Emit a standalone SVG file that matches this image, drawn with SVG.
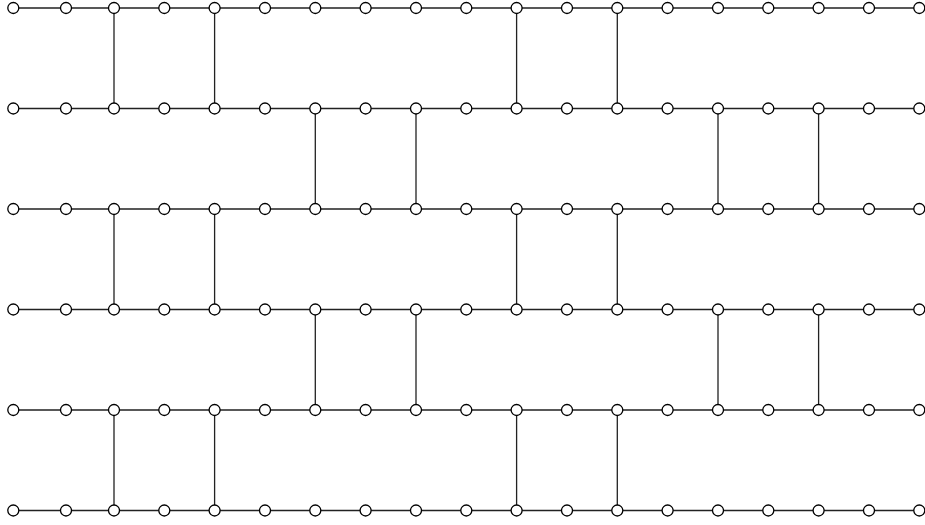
<svg xmlns="http://www.w3.org/2000/svg" width="925" height="525" viewBox="0 0 925 525">
<style>
.e{stroke:#222;stroke-width:1.3;fill:none}
.n{fill:#fff;stroke:#000;stroke-width:1.3}
</style>
<rect width="925" height="525" fill="#fff"/>
<g id="connectors">
<path class="e" d="M13.3 8H66M66 8H114M114 8H164.3M164.3 8H214.6M214.6 8H265M265 8H315.3M315.3 8H365.6M365.6 8H416M416 8H466.3M466.3 8H516.6M516.6 8H567M567 8H617.3M617.3 8H667.6M667.6 8H718M718 8H768.3M768.3 8H818.6M818.6 8H869M869 8H919.3"/>
<path class="e" d="M13.3 108.5H66M66 108.5H114M114 108.5H164.3M164.3 108.5H214.6M214.6 108.5H265M265 108.5H315.3M315.3 108.5H365.6M365.6 108.5H416M416 108.5H466.3M466.3 108.5H516.6M516.6 108.5H567M567 108.5H617.3M617.3 108.5H667.6M667.6 108.5H718M718 108.5H768.3M768.3 108.5H818.6M818.6 108.5H869M869 108.5H919.3"/>
<path class="e" d="M13.3 209H66M66 209H114M114 209H164.3M164.3 209H214.6M214.6 209H265M265 209H315.3M315.3 209H365.6M365.6 209H416M416 209H466.3M466.3 209H516.6M516.6 209H567M567 209H617.3M617.3 209H667.6M667.6 209H718M718 209H768.3M768.3 209H818.6M818.6 209H869M869 209H919.3"/>
<path class="e" d="M13.3 309.5H66M66 309.5H114M114 309.5H164.3M164.3 309.5H214.6M214.6 309.5H265M265 309.5H315.3M315.3 309.5H365.6M365.6 309.5H416M416 309.5H466.3M466.3 309.5H516.6M516.6 309.5H567M567 309.5H617.3M617.3 309.5H667.6M667.6 309.5H718M718 309.5H768.3M768.3 309.5H818.6M818.6 309.5H869M869 309.5H919.3"/>
<path class="e" d="M13.3 410H66M66 410H114M114 410H164.3M164.3 410H214.6M214.6 410H265M265 410H315.3M315.3 410H365.6M365.6 410H416M416 410H466.3M466.3 410H516.6M516.6 410H567M567 410H617.3M617.3 410H667.6M667.6 410H718M718 410H768.3M768.3 410H818.6M818.6 410H869M869 410H919.3"/>
<path class="e" d="M13.3 510.5H66M66 510.5H114M114 510.5H164.3M164.3 510.5H214.6M214.6 510.5H265M265 510.5H315.3M315.3 510.5H365.6M365.6 510.5H416M416 510.5H466.3M466.3 510.5H516.6M516.6 510.5H567M567 510.5H617.3M617.3 510.5H667.6M667.6 510.5H718M718 510.5H768.3M768.3 510.5H818.6M818.6 510.5H869M869 510.5H919.3"/>
<path class="e" d="M114 8V108.5M214.6 8V108.5M516.6 8V108.5M617.3 8V108.5"/>
<path class="e" d="M315.3 108.5V209M416 108.5V209M718 108.5V209M818.6 108.5V209"/>
<path class="e" d="M114 209V309.5M214.6 209V309.5M516.6 209V309.5M617.3 209V309.5"/>
<path class="e" d="M315.3 309.5V410M416 309.5V410M718 309.5V410M818.6 309.5V410"/>
<path class="e" d="M114 410V510.5M214.6 410V510.5M516.6 410V510.5M617.3 410V510.5"/>
</g>
<g id="r0">
<g id="n0_0"><circle class="n" cx="13.3" cy="8" r="5.5"/></g>
<g id="n0_1"><circle class="n" cx="66" cy="8" r="5.5"/></g>
<g id="n0_2"><circle class="n" cx="114" cy="8" r="5.5"/></g>
<g id="n0_3"><circle class="n" cx="164.3" cy="8" r="5.5"/></g>
<g id="n0_4"><circle class="n" cx="214.6" cy="8" r="5.5"/></g>
<g id="n0_5"><circle class="n" cx="265" cy="8" r="5.5"/></g>
<g id="n0_6"><circle class="n" cx="315.3" cy="8" r="5.5"/></g>
<g id="n0_7"><circle class="n" cx="365.6" cy="8" r="5.5"/></g>
<g id="n0_8"><circle class="n" cx="416" cy="8" r="5.5"/></g>
<g id="n0_9"><circle class="n" cx="466.3" cy="8" r="5.5"/></g>
<g id="n0_10"><circle class="n" cx="516.6" cy="8" r="5.5"/></g>
<g id="n0_11"><circle class="n" cx="567" cy="8" r="5.5"/></g>
<g id="n0_12"><circle class="n" cx="617.3" cy="8" r="5.5"/></g>
<g id="n0_13"><circle class="n" cx="667.6" cy="8" r="5.5"/></g>
<g id="n0_14"><circle class="n" cx="718" cy="8" r="5.5"/></g>
<g id="n0_15"><circle class="n" cx="768.3" cy="8" r="5.5"/></g>
<g id="n0_16"><circle class="n" cx="818.6" cy="8" r="5.5"/></g>
<g id="n0_17"><circle class="n" cx="869" cy="8" r="5.5"/></g>
<g id="n0_18"><circle class="n" cx="919.3" cy="8" r="5.5"/></g>
</g>
<g id="r1">
<g id="n1_0"><circle class="n" cx="13.3" cy="108.5" r="5.5"/></g>
<g id="n1_1"><circle class="n" cx="66" cy="108.5" r="5.5"/></g>
<g id="n1_2"><circle class="n" cx="114" cy="108.5" r="5.5"/></g>
<g id="n1_3"><circle class="n" cx="164.3" cy="108.5" r="5.5"/></g>
<g id="n1_4"><circle class="n" cx="214.6" cy="108.5" r="5.5"/></g>
<g id="n1_5"><circle class="n" cx="265" cy="108.5" r="5.5"/></g>
<g id="n1_6"><circle class="n" cx="315.3" cy="108.5" r="5.5"/></g>
<g id="n1_7"><circle class="n" cx="365.6" cy="108.5" r="5.5"/></g>
<g id="n1_8"><circle class="n" cx="416" cy="108.5" r="5.5"/></g>
<g id="n1_9"><circle class="n" cx="466.3" cy="108.5" r="5.5"/></g>
<g id="n1_10"><circle class="n" cx="516.6" cy="108.5" r="5.5"/></g>
<g id="n1_11"><circle class="n" cx="567" cy="108.5" r="5.5"/></g>
<g id="n1_12"><circle class="n" cx="617.3" cy="108.5" r="5.5"/></g>
<g id="n1_13"><circle class="n" cx="667.6" cy="108.5" r="5.5"/></g>
<g id="n1_14"><circle class="n" cx="718" cy="108.5" r="5.5"/></g>
<g id="n1_15"><circle class="n" cx="768.3" cy="108.5" r="5.5"/></g>
<g id="n1_16"><circle class="n" cx="818.6" cy="108.5" r="5.5"/></g>
<g id="n1_17"><circle class="n" cx="869" cy="108.5" r="5.5"/></g>
<g id="n1_18"><circle class="n" cx="919.3" cy="108.5" r="5.5"/></g>
</g>
<g id="r2">
<g id="n2_0"><circle class="n" cx="13.3" cy="209" r="5.5"/></g>
<g id="n2_1"><circle class="n" cx="66" cy="209" r="5.5"/></g>
<g id="n2_2"><circle class="n" cx="114" cy="209" r="5.5"/></g>
<g id="n2_3"><circle class="n" cx="164.3" cy="209" r="5.5"/></g>
<g id="n2_4"><circle class="n" cx="214.6" cy="209" r="5.5"/></g>
<g id="n2_5"><circle class="n" cx="265" cy="209" r="5.5"/></g>
<g id="n2_6"><circle class="n" cx="315.3" cy="209" r="5.5"/></g>
<g id="n2_7"><circle class="n" cx="365.6" cy="209" r="5.5"/></g>
<g id="n2_8"><circle class="n" cx="416" cy="209" r="5.5"/></g>
<g id="n2_9"><circle class="n" cx="466.3" cy="209" r="5.5"/></g>
<g id="n2_10"><circle class="n" cx="516.6" cy="209" r="5.5"/></g>
<g id="n2_11"><circle class="n" cx="567" cy="209" r="5.5"/></g>
<g id="n2_12"><circle class="n" cx="617.3" cy="209" r="5.5"/></g>
<g id="n2_13"><circle class="n" cx="667.6" cy="209" r="5.5"/></g>
<g id="n2_14"><circle class="n" cx="718" cy="209" r="5.5"/></g>
<g id="n2_15"><circle class="n" cx="768.3" cy="209" r="5.5"/></g>
<g id="n2_16"><circle class="n" cx="818.6" cy="209" r="5.5"/></g>
<g id="n2_17"><circle class="n" cx="869" cy="209" r="5.5"/></g>
<g id="n2_18"><circle class="n" cx="919.3" cy="209" r="5.5"/></g>
</g>
<g id="r3">
<g id="n3_0"><circle class="n" cx="13.3" cy="309.5" r="5.5"/></g>
<g id="n3_1"><circle class="n" cx="66" cy="309.5" r="5.5"/></g>
<g id="n3_2"><circle class="n" cx="114" cy="309.5" r="5.5"/></g>
<g id="n3_3"><circle class="n" cx="164.3" cy="309.5" r="5.5"/></g>
<g id="n3_4"><circle class="n" cx="214.6" cy="309.5" r="5.5"/></g>
<g id="n3_5"><circle class="n" cx="265" cy="309.5" r="5.5"/></g>
<g id="n3_6"><circle class="n" cx="315.3" cy="309.5" r="5.5"/></g>
<g id="n3_7"><circle class="n" cx="365.6" cy="309.5" r="5.5"/></g>
<g id="n3_8"><circle class="n" cx="416" cy="309.5" r="5.5"/></g>
<g id="n3_9"><circle class="n" cx="466.3" cy="309.5" r="5.5"/></g>
<g id="n3_10"><circle class="n" cx="516.6" cy="309.5" r="5.5"/></g>
<g id="n3_11"><circle class="n" cx="567" cy="309.5" r="5.5"/></g>
<g id="n3_12"><circle class="n" cx="617.3" cy="309.5" r="5.5"/></g>
<g id="n3_13"><circle class="n" cx="667.6" cy="309.5" r="5.5"/></g>
<g id="n3_14"><circle class="n" cx="718" cy="309.5" r="5.5"/></g>
<g id="n3_15"><circle class="n" cx="768.3" cy="309.5" r="5.5"/></g>
<g id="n3_16"><circle class="n" cx="818.6" cy="309.5" r="5.5"/></g>
<g id="n3_17"><circle class="n" cx="869" cy="309.5" r="5.5"/></g>
<g id="n3_18"><circle class="n" cx="919.3" cy="309.5" r="5.5"/></g>
</g>
<g id="r4">
<g id="n4_0"><circle class="n" cx="13.3" cy="410" r="5.5"/></g>
<g id="n4_1"><circle class="n" cx="66" cy="410" r="5.5"/></g>
<g id="n4_2"><circle class="n" cx="114" cy="410" r="5.5"/></g>
<g id="n4_3"><circle class="n" cx="164.3" cy="410" r="5.5"/></g>
<g id="n4_4"><circle class="n" cx="214.6" cy="410" r="5.5"/></g>
<g id="n4_5"><circle class="n" cx="265" cy="410" r="5.5"/></g>
<g id="n4_6"><circle class="n" cx="315.3" cy="410" r="5.5"/></g>
<g id="n4_7"><circle class="n" cx="365.6" cy="410" r="5.5"/></g>
<g id="n4_8"><circle class="n" cx="416" cy="410" r="5.5"/></g>
<g id="n4_9"><circle class="n" cx="466.3" cy="410" r="5.5"/></g>
<g id="n4_10"><circle class="n" cx="516.6" cy="410" r="5.5"/></g>
<g id="n4_11"><circle class="n" cx="567" cy="410" r="5.5"/></g>
<g id="n4_12"><circle class="n" cx="617.3" cy="410" r="5.5"/></g>
<g id="n4_13"><circle class="n" cx="667.6" cy="410" r="5.5"/></g>
<g id="n4_14"><circle class="n" cx="718" cy="410" r="5.5"/></g>
<g id="n4_15"><circle class="n" cx="768.3" cy="410" r="5.5"/></g>
<g id="n4_16"><circle class="n" cx="818.6" cy="410" r="5.5"/></g>
<g id="n4_17"><circle class="n" cx="869" cy="410" r="5.5"/></g>
<g id="n4_18"><circle class="n" cx="919.3" cy="410" r="5.5"/></g>
</g>
<g id="r5">
<g id="n5_0"><circle class="n" cx="13.3" cy="510.5" r="5.5"/></g>
<g id="n5_1"><circle class="n" cx="66" cy="510.5" r="5.5"/></g>
<g id="n5_2"><circle class="n" cx="114" cy="510.5" r="5.5"/></g>
<g id="n5_3"><circle class="n" cx="164.3" cy="510.5" r="5.5"/></g>
<g id="n5_4"><circle class="n" cx="214.6" cy="510.5" r="5.5"/></g>
<g id="n5_5"><circle class="n" cx="265" cy="510.5" r="5.5"/></g>
<g id="n5_6"><circle class="n" cx="315.3" cy="510.5" r="5.5"/></g>
<g id="n5_7"><circle class="n" cx="365.6" cy="510.5" r="5.5"/></g>
<g id="n5_8"><circle class="n" cx="416" cy="510.5" r="5.5"/></g>
<g id="n5_9"><circle class="n" cx="466.3" cy="510.5" r="5.5"/></g>
<g id="n5_10"><circle class="n" cx="516.6" cy="510.5" r="5.5"/></g>
<g id="n5_11"><circle class="n" cx="567" cy="510.5" r="5.5"/></g>
<g id="n5_12"><circle class="n" cx="617.3" cy="510.5" r="5.5"/></g>
<g id="n5_13"><circle class="n" cx="667.6" cy="510.5" r="5.5"/></g>
<g id="n5_14"><circle class="n" cx="718" cy="510.5" r="5.5"/></g>
<g id="n5_15"><circle class="n" cx="768.3" cy="510.5" r="5.5"/></g>
<g id="n5_16"><circle class="n" cx="818.6" cy="510.5" r="5.5"/></g>
<g id="n5_17"><circle class="n" cx="869" cy="510.5" r="5.5"/></g>
<g id="n5_18"><circle class="n" cx="919.3" cy="510.5" r="5.5"/></g>
</g>
</svg>
